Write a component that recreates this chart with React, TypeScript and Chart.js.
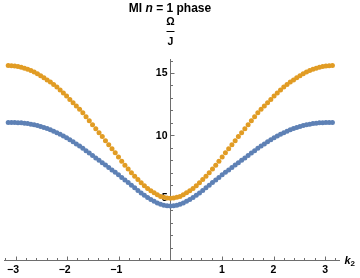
import { useEffect, useRef } from "react";
import { Chart, registerables } from "chart.js";

Chart.register(...registerables);

const kValues = [
  -3.142, -3.079, -3.016, -2.953, -2.890, -2.827, -2.765, -2.702, -2.639, -2.576,
  -2.513, -2.450, -2.388, -2.325, -2.262, -2.199, -2.136, -2.073, -2.011, -1.948,
  -1.885, -1.822, -1.759, -1.696, -1.634, -1.571, -1.508, -1.445, -1.382, -1.319,
  -1.257, -1.194, -1.131, -1.068, -1.005, -0.942, -0.880, -0.817, -0.754, -0.691,
  -0.628, -0.565, -0.503, -0.440, -0.377, -0.314, -0.251, -0.188, -0.126, -0.063,
  0,
  0.063, 0.126, 0.188, 0.251, 0.314, 0.377, 0.440, 0.503, 0.565, 0.628,
  0.691, 0.754, 0.817, 0.880, 0.942, 1.005, 1.068, 1.131, 1.194, 1.257,
  1.319, 1.382, 1.445, 1.508, 1.571, 1.634, 1.696, 1.759, 1.822, 1.885,
  1.948, 2.011, 2.073, 2.136, 2.199, 2.262, 2.325, 2.388, 2.450, 2.513,
  2.576, 2.639, 2.702, 2.765, 2.827, 2.890, 2.953, 3.016, 3.079, 3.142,
];

const orangeValues = [
  15.60, 15.59, 15.56, 15.52, 15.46, 15.39, 15.30, 15.20, 15.08, 14.94,
  14.78, 14.62, 14.45, 14.27, 14.07, 13.87, 13.64, 13.40, 13.15, 12.87,
  12.62, 12.36, 12.09, 11.81, 11.50, 11.18, 10.85, 10.53, 10.21, 9.90,
  9.57, 9.25, 8.93, 8.60, 8.26, 7.93, 7.61, 7.30, 7.00, 6.71,
  6.45, 6.20, 5.96, 5.74, 5.56, 5.39, 5.24, 5.10, 5.03, 4.97,
  4.95,
  4.97, 5.03, 5.10, 5.24, 5.39, 5.56, 5.74, 5.96, 6.20, 6.45,
  6.71, 7.00, 7.30, 7.61, 7.93, 8.26, 8.60, 8.93, 9.25, 9.57,
  9.90, 10.21, 10.53, 10.85, 11.18, 11.50, 11.81, 12.09, 12.36, 12.62,
  12.87, 13.15, 13.40, 13.64, 13.87, 14.07, 14.27, 14.45, 14.62, 14.78,
  14.94, 15.08, 15.20, 15.30, 15.39, 15.46, 15.52, 15.56, 15.59, 15.60,
];

const blueValues = [
  11.03, 11.03, 11.03, 11.02, 11.01, 10.98, 10.95, 10.90, 10.85, 10.79,
  10.71, 10.63, 10.54, 10.44, 10.33, 10.21, 10.08, 9.94, 9.80, 9.64,
  9.48, 9.31, 9.14, 8.96, 8.77, 8.58, 8.39, 8.19, 8.00, 7.81,
  7.62, 7.42, 7.23, 7.03, 6.83, 6.62, 6.42, 6.21, 6.00, 5.79,
  5.58, 5.38, 5.19, 5.02, 4.86, 4.71, 4.58, 4.47, 4.39, 4.35,
  4.33,
  4.35, 4.39, 4.47, 4.58, 4.71, 4.86, 5.02, 5.19, 5.38, 5.58,
  5.79, 6.00, 6.21, 6.42, 6.62, 6.83, 7.03, 7.23, 7.42, 7.62,
  7.81, 8.00, 8.19, 8.39, 8.58, 8.77, 8.96, 9.14, 9.31, 9.48,
  9.64, 9.80, 9.94, 10.08, 10.21, 10.33, 10.44, 10.54, 10.63, 10.71,
  10.79, 10.85, 10.90, 10.95, 10.98, 11.01, 11.02, 11.03, 11.03, 11.03,
];

const yMajorTicks = [5, 10, 15];
const yTickLabels = ["5", "10", "15"];
const xMajorTicks = [-3, -2, -1, 1, 2, 3];
const xTickLabels = ["\u22123", "\u22122", "\u22121", "1", "2", "3"];

const FONT = '"Liberation Sans", Arial, sans-serif';

export default function App() {
  const ref = useRef<HTMLCanvasElement>(null);

  useEffect(() => {
    const canvas = ref.current;
    if (!canvas) return;

    const mmaPlugin = {
      id: "mmaAxes",
      beforeDatasetsDraw(chart: any) {
        const ctx = chart.ctx as CanvasRenderingContext2D;
        const xs = chart.scales.x;
        const ys = chart.scales.y;
        const x0 = Math.round(xs.getPixelForValue(0)) + 0.5;
        const y0 = Math.round(ys.getPixelForValue(0)) + 0.5;
        ctx.save();
        ctx.strokeStyle = "#6e6e6e";
        ctx.lineWidth = 1;
        ctx.beginPath();
        ctx.moveTo(xs.left, y0);
        ctx.lineTo(xs.right, y0);
        ctx.moveTo(x0, ys.bottom);
        ctx.lineTo(x0, ys.top);
        ctx.stroke();

        ctx.beginPath();
        for (let i = -16; i <= 16; i++) {
          const v = i / 5;
          if (v < xs.min || v > xs.max || i === 0) continue;
          const px = Math.round(xs.getPixelForValue(v)) + 0.5;
          const len = i % 5 === 0 ? 4 : 2.5;
          ctx.moveTo(px, y0);
          ctx.lineTo(px, y0 - len);
        }
        for (let v = 1; v <= 16; v++) {
          const py = Math.round(ys.getPixelForValue(v)) + 0.5;
          const len = v % 5 === 0 ? 4 : 2.5;
          ctx.moveTo(x0, py);
          ctx.lineTo(x0 + len, py);
        }
        ctx.stroke();

        ctx.fillStyle = "#000";
        ctx.font = `bold 10.5px ${FONT}`;
        ctx.textBaseline = "middle";
        ctx.textAlign = "right";
        yMajorTicks.forEach((v, i) => {
          ctx.fillText(yTickLabels[i], x0 - 3, ys.getPixelForValue(v) + 0.5);
        });
        ctx.textAlign = "center";
        xMajorTicks.forEach((v, i) => {
          const shift = v < 0 ? -2.5 : 0;
          ctx.fillText(xTickLabels[i], xs.getPixelForValue(v) + shift, y0 + 9.5);
        });

        ctx.font = `bold 10.5px ${FONT}`;
        ctx.textAlign = "center";
        ctx.textBaseline = "alphabetic";
        ctx.fillText("\u03A9", x0, 24.5);
        ctx.fillText("J", x0, 45);
        ctx.beginPath();
        ctx.strokeStyle = "#000";
        ctx.moveTo(x0 - 4, 31.5);
        ctx.lineTo(x0 + 4, 31.5);
        ctx.stroke();

        ctx.textAlign = "left";
        ctx.font = `italic bold 11px ${FONT}`;
        ctx.fillText("k", 344.5, 263.5);
        const kw = ctx.measureText("k").width;
        ctx.font = `bold 8px ${FONT}`;
        ctx.fillText("2", 344.5 + kw, 266);

        const parts: [string, string][] = [
          ["MI ", `bold 12px ${FONT}`],
          ["n", `italic bold 12px ${FONT}`],
          [" = 1 phase", `bold 12px ${FONT}`],
        ];
        let total = 0;
        parts.forEach(([t, f]) => {
          ctx.font = f;
          total += ctx.measureText(t).width;
        });
        let cx = 170 - total / 2;
        parts.forEach(([t, f]) => {
          ctx.font = f;
          ctx.fillText(t, cx, 11.5);
          cx += ctx.measureText(t).width;
        });
        ctx.restore();
      },
    };

    const chart = new Chart(canvas, {
      type: "scatter",
      data: {
        datasets: [
          {
            label: "lower",
            data: kValues.map((k, i) => ({ x: k, y: blueValues[i] })),
            backgroundColor: "#5E81B5",
            borderWidth: 0,
            pointRadius: 2.5,
          },
          {
            label: "upper",
            data: kValues.map((k, i) => ({ x: k, y: orangeValues[i] })),
            backgroundColor: "#E19C24",
            borderWidth: 0,
            pointRadius: 2.5,
          },
        ],
      },
      options: {
        responsive: false,
        animation: false,
        layout: { padding: { left: 0, right: 20, top: 59, bottom: 18 } },
        plugins: { legend: { display: false }, tooltip: { enabled: false }, title: { display: false } },
        scales: {
          x: { type: "linear", min: -3.224, max: 3.289, display: false },
          y: { type: "linear", min: 0, max: 16.125, display: false },
        },
      },
      plugins: [mmaPlugin],
    });
    return () => chart.destroy();
  }, []);

  return (
    <div style={{ position: "fixed", left: 0, top: 0, width: 360, height: 278, background: "#fff" }}>
      <canvas ref={ref} width={360} height={278} style={{ display: "block" }} />
    </div>
  );
}
